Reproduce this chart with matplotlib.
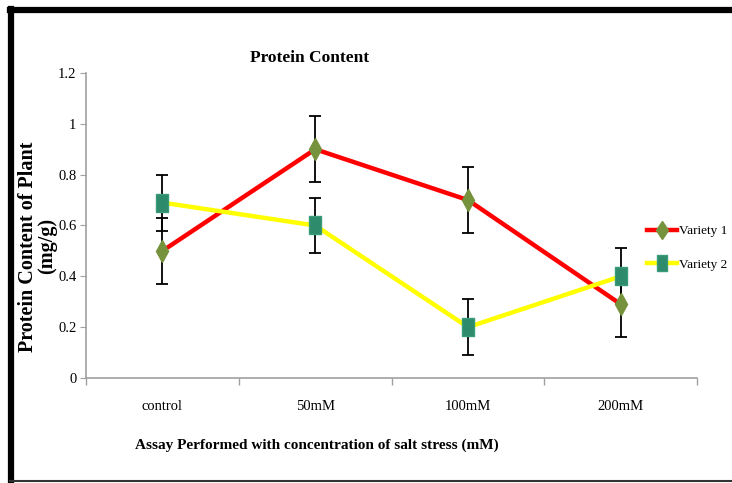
import matplotlib
matplotlib.use("Agg")
import matplotlib.pyplot as plt
from matplotlib.lines import Line2D
from matplotlib.ticker import FuncFormatter

# valeurs
categories = ["control", "50mM", "100mM", "200mM"]
variety1 = [0.50, 0.90, 0.70, 0.29]
variety1_err = [0.13, 0.13, 0.13, 0.13]
variety2 = [0.69, 0.60, 0.20, 0.40]
variety2_err = [0.11, 0.11, 0.11, 0.11]
y_ticks = [0, 0.2, 0.4, 0.6, 0.8, 1.0, 1.2]

plt.rcParams['font.family'] = ['Liberation Serif', 'DejaVu Serif']

fig = plt.figure(figsize=(7.32, 4.83), dpi=100)
ax = fig.add_axes([0.1175, 0.2174, 0.835, 0.6315])

x = list(range(len(categories)))

# rectangle un peu plus haut que large, comme dans l'original
rect_marker = [(-0.62, -1), (0.62, -1), (0.62, 1), (-0.62, 1), (-0.62, -1)]

ax.errorbar(x, variety1, yerr=variety1_err, fmt='none', ecolor='black',
            elinewidth=1.3, capsize=4, capthick=1.3, zorder=2)
ax.errorbar(x, variety2, yerr=variety2_err, fmt='none', ecolor='black',
            elinewidth=1.3, capsize=4, capthick=1.3, zorder=2)
ax.plot(x, variety1, color='#FF0000', lw=3.2, marker='d', markersize=11,
        markerfacecolor='#76923C', markeredgecolor='#76923C', label='Variety 1', zorder=3)
ax.plot(x, variety2, color='#FFFF00', lw=3.2, marker=rect_marker, markersize=13,
        markerfacecolor='#2E8B6B', markeredgecolor='#3A9C7A', label='Variety 2', zorder=3)

ax.set_xlim(-0.5, len(categories) - 0.5)
ax.set_ylim(0, 1.2)
ax.set_yticks(y_ticks)
ax.yaxis.set_major_formatter(FuncFormatter(lambda v, p: f"{v:g}"))
ax.set_xticks(x)
ax.set_xticklabels(categories, fontsize=10.5)
ax.set_xticks([i + 0.5 for i in range(-1, len(categories))], minor=True)
ax.tick_params(axis='x', which='major', length=0, pad=16)
ax.tick_params(axis='x', which='minor', length=5, color='#A0A0A0', width=1)
ax.tick_params(axis='y', length=4, color='#A0A0A0', labelsize=10.5, pad=3)

for s in ['top', 'right']:
    ax.spines[s].set_visible(False)
for s in ['left', 'bottom']:
    ax.spines[s].set_color('#A0A0A0')
    ax.spines[s].set_linewidth(1.2)

fig.text(0.423, 0.88, "Protein Content", ha='center', va='center',
         fontsize=12.5, fontweight='bold')
fig.text(0.433, 0.078, "Assay Performed with concentration of salt stress (mM)",
         ha='center', va='center', fontsize=11, fontweight='bold')
fig.text(0.051, 0.49, "Protein Content of Plant\n(mg/g)", ha='center', va='center',
         rotation=90, fontsize=14.5, fontweight='bold', linespacing=0.95)

ax.legend(loc='center left', bbox_to_anchor=(0.884, 0.487), bbox_transform=fig.transFigure,
          frameon=False, fontsize=9.5, handlelength=2.3, handletextpad=0.15,
          labelspacing=1.6, numpoints=1, markerscale=0.85, borderpad=0, borderaxespad=0)

# cadre noir autour de la figure
fig.add_artist(Line2D([0.014, 1.0], [0.98, 0.98], color='black', lw=4.5, transform=fig.transFigure))
fig.add_artist(Line2D([0.015, 0.015], [0.0, 0.982], color='black', lw=4.5, transform=fig.transFigure))
fig.add_artist(Line2D([0.014, 1.0], [0.004, 0.004], color='#333333', lw=1.5, transform=fig.transFigure))

fig.savefig('out.png', dpi=100)
